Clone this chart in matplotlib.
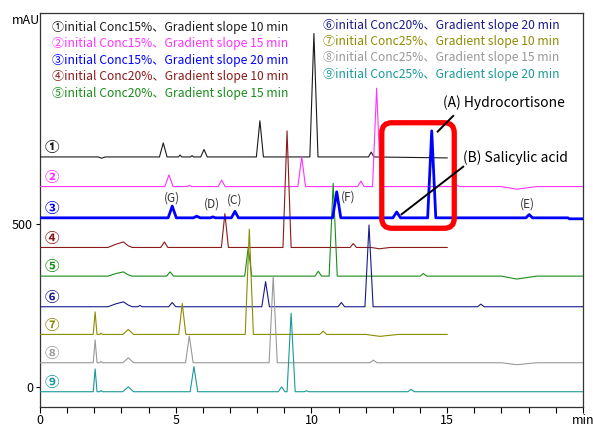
import matplotlib
matplotlib.use('Agg')
import numpy as np
import matplotlib.pyplot as plt
from matplotlib.patches import FancyBboxPatch

plt.rcParams['font.family'] = ['Noto Sans CJK JP', 'DejaVu Sans']

# chromatogram traces: vertex times (min) and signal above baseline (mAU)
t1 = [0, 2.15, 2.27, 2.4, 4.4, 4.54, 4.68, 5.1, 5.16, 5.22, 5.55, 5.6, 5.65, 5.92, 6.04, 6.16,
      7.97, 8.1, 8.23, 9.94, 10.09, 10.24, 12.1, 12.2, 12.3, 15]
y1 = [0, 0, -4, 0, 0, 43, 0, 0, 6, 0, 0, 4, 0, 0, 23, 0,
      0, 111, 0, 0, 379, 0, 0, 15, 0, -3]
t2 = [0, 4.6, 4.75, 4.9, 5.42, 5.5, 5.58, 6.56, 6.69, 6.82, 9.5, 9.64, 9.78, 11.7, 11.82, 11.94,
      12.25, 12.4, 12.55, 15.25, 15.35, 15.45, 17.0, 17.56, 18.3, 20]
y2 = [0, 0, 36, 0, 0, 4, 0, 0, 20, 0, 0, 92, 0, 0, 17, 0,
      0, 302, 0, 0, 5, 0, 0, -8, 0, 0]
t3 = [0, 4.72, 4.87, 5.02, 5.65, 5.77, 5.9, 6.28, 6.37, 6.46, 7.05, 7.18, 7.31, 10.78, 10.93, 11.08,
      13.0, 13.14, 13.28, 14.28, 14.43, 14.58, 17.9, 18.02, 18.14, 19.45, 19.5, 20]
y3 = [0, 0, 36, 0, 0, 5, 0, 0, 3, 0, 0, 20, 0, 0, 80, 0,
      0, 18, 0, 0, 267, 0, 0, 10, 0, 0, -3, -3]
t4 = [0, 2.5, 2.8, 3.07, 3.25, 3.4, 4.45, 4.58, 4.71, 6.68, 6.81, 6.94, 8.95, 9.1, 9.25,
      11.42, 11.54, 11.66, 12.2, 12.5, 12.9, 15]
y4 = [0, 0, 10, 17, 5, 0, 0, 17, 0, 0, 104, 0, 0, 358, 0,
      0, 12, 0, 0, -4, 0, 0]
t5 = [0, 2.5, 2.8, 3.07, 3.25, 3.4, 4.66, 4.79, 4.92, 7.54, 7.67, 7.8, 10.13, 10.25, 10.37,
      10.65, 10.8, 10.95, 14.0, 14.12, 14.24, 17.0, 17.56, 18.3, 20]
y5 = [0, 0, 8, 13, 4, 0, 0, 13, 0, 0, 88, 0, 0, 15, 0,
      0, 285, 0, 0, 8, 0, 0, -9, 0, 0]
t6 = [0, 2.5, 2.8, 3.07, 3.25, 3.4, 3.6, 3.68, 3.76, 4.74, 4.87, 5.0, 8.17, 8.31, 8.45,
      10.98, 11.1, 11.22, 11.97, 12.12, 12.27, 16.12, 16.24, 16.36, 20]
y6 = [0, 0, 9, 15, 5, 0, 0, 4, 0, 0, 13, 0, 0, 77, 0,
      0, 13, 0, 0, 251, 0, 0, 8, 0, 0]
t7 = [0, 1.96, 2.03, 2.1, 2.2, 2.25, 2.3, 3.05, 3.25, 3.45, 5.11, 5.24, 5.37, 7.56, 7.71, 7.86,
      10.3, 10.43, 10.56, 12.0, 12.52, 13.2, 15]
y7 = [0, 0, 69, 0, 0, 4, 0, 0, 15, 0, 0, 95, 0, 0, 323, 0,
      0, 10, 0, 0, -6, 0, 0]
t8 = [0, 1.96, 2.03, 2.1, 2.2, 2.25, 2.3, 3.05, 3.25, 3.45, 5.36, 5.5, 5.64, 8.44, 8.59, 8.74,
      12.15, 12.28, 12.41, 17.0, 17.56, 18.3, 20]
y8 = [0, 0, 70, 0, 0, 4, 0, 0, 15, 0, 0, 82, 0, 0, 266, 0,
      0, 8, 0, 0, -6, 0, 0]
t9 = [0, 1.96, 2.03, 2.1, 2.2, 2.25, 2.3, 3.05, 3.25, 3.45, 5.53, 5.67, 5.81, 8.78, 8.9, 9.02,
      9.1, 9.25, 9.4, 9.74, 9.82, 9.9, 13.55, 13.67, 13.79, 20]
y9 = [0, 0, 70, 0, 0, 4, 0, 0, 15, 0, 0, 77, 0, 0, 15, 0,
      0, 241, 0, 0, 3, 0, 0, 7, 0, 0]

times = [t1, t2, t3, t4, t5, t6, t7, t8, t9]
signals = [y1, y2, y3, y4, y5, y6, y7, y8, y9]
offsets = [706, 615, 519, 428, 340, 246, 161, 74, -15]
numbers = ['①', '②', '③', '④', '⑤', '⑥', '⑦', '⑧', '⑨']
conc = ['15%', '15%', '15%', '20%', '20%', '20%', '25%', '25%', '25%']
slope = ['10', '15', '20', '10', '15', '20', '10', '15', '20']
colors = ['#1a1a1a', '#ff33ff', '#0000ff', '#8b1a1a', '#1a8c1a',
          '#1a1a8c', '#8c8c00', '#999999', '#1a9999']

peak_names = ['(G)', '(D)', '(C)', '(F)', '(E)']
peak_pos = [(4.86, 579), (6.34, 561), (7.18, 574), (11.34, 582), (17.97, 561)]

fig = plt.figure(figsize=(5.93, 4.28), dpi=100)
ax = fig.add_axes([0.0675, 0.049, 0.9155, 0.9206])

for i in range(9):
    lw = 2.0 if i == 2 else 0.8
    ax.plot(times[i], np.array(signals[i]) + offsets[i], color=colors[i], lw=lw,
            zorder=5 if i == 2 else 3)
    ax.text(0.45, offsets[i] + 30, numbers[i], color=colors[i], fontsize=10.5,
            fontweight='bold', ha='center', va='center')

# legend texts
for i in range(9):
    label = numbers[i] + 'initial Conc' + conc[i] + '、Gradient slope ' + slope[i] + ' min'
    if i < 5:
        x, y = 52, 27.3 + i * 16.5
    else:
        x, y = 322.7, 25 + (i - 5) * 16.4
    fig.text(x / 593, 1 - y / 428, label, color=colors[i], fontsize=8.7,
             ha='left', va='center')

for name, (px, py) in zip(peak_names, peak_pos):
    ax.text(px, py, name, fontsize=8.5, color='#333333', ha='center', va='center')

# red highlight box
box = FancyBboxPatch((12.59, 487), 2.67, 324,
                     boxstyle='round,pad=0,rounding_size=0.37',
                     mutation_aspect=83.4, fill=False, ec='#ff0000', lw=3.8, zorder=6)
ax.add_patch(box)

ax.plot([15.22, 14.65], [832, 784], color='black', lw=1.4, zorder=7)
ax.text(14.84, 872, '(A) Hydrocortisone', fontsize=10, ha='left', va='center')
ax.plot([15.59, 13.32], [676, 530], color='black', lw=1.4, zorder=7)
ax.text(15.58, 703, '(B) Salicylic acid', fontsize=10, ha='left', va='center')

ax.set_xlim(0, 20)
ax.set_ylim(-62, 1148)
ax.set_xticks([0, 5, 10, 15, 20])
ax.set_xticklabels(['0', '5', '10', '15', 'min'])
ax.set_xticks(range(21), minor=True)
ax.set_yticks([0, 500])
ax.tick_params(axis='x', which='both', length=4, width=0.8, labelsize=9, pad=1)
ax.tick_params(axis='y', length=3, width=0.8, labelsize=9, pad=2)
for s in ax.spines.values():
    s.set_linewidth(0.9)
    s.set_color('#333333')
fig.text(12 / 593, 1 - 20 / 428, 'mAU', fontsize=9, ha='left', va='center')

plt.savefig('out.png', dpi=100)
